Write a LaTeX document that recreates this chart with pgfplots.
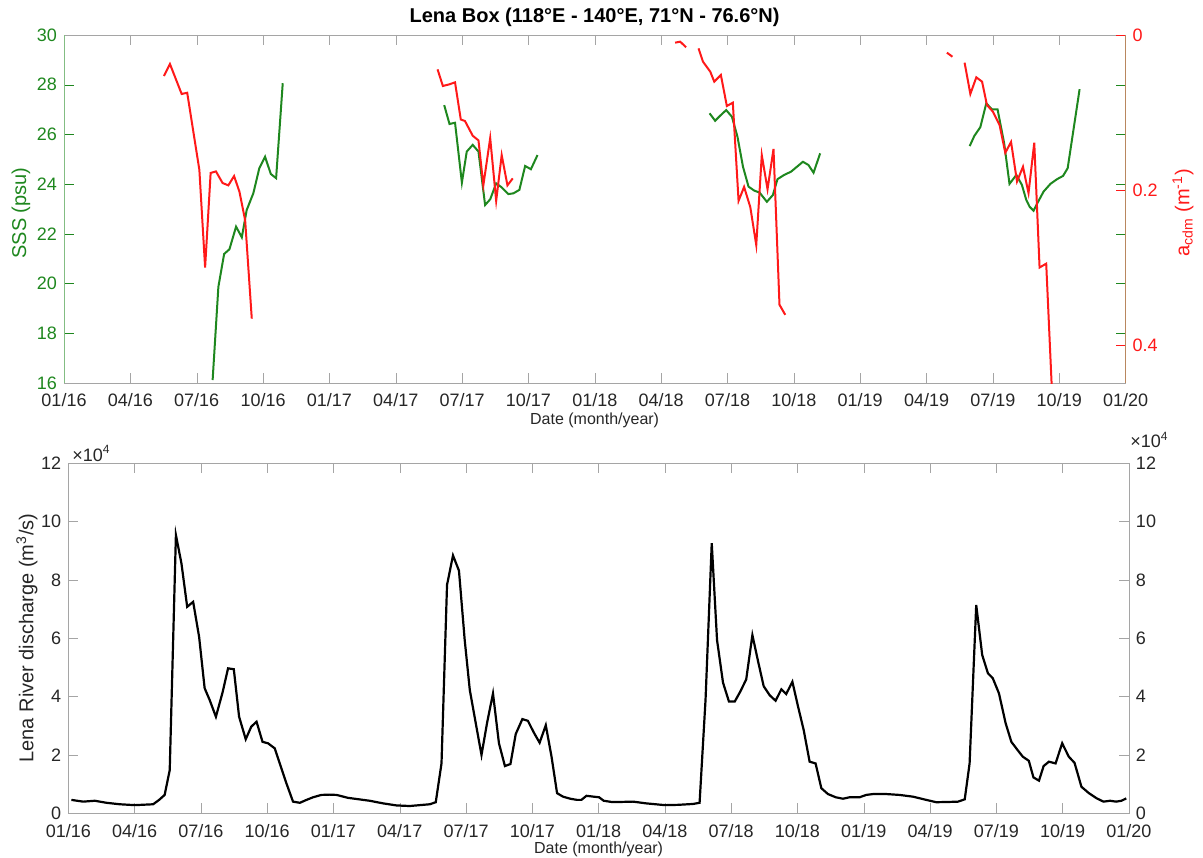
\documentclass[border=0pt]{standalone}
\usepackage{pgfplots}
\usepackage{pgfplotstable}
\pgfplotsset{compat=1.18}
\usepackage{fontspec}
\setmainfont{Liberation Sans}

\definecolor{sssgreen}{RGB}{30,135,30}
\definecolor{acdmred}{RGB}{255,25,25}
\definecolor{framegray}{RGB}{165,165,165}
\definecolor{labelgray}{RGB}{38,38,38}
\definecolor{rightaxis}{RGB}{185,135,95}

% Sea surface salinity in the Lena box (x = months since Jan 2016)
\pgfplotstableread{
month sss
6.72 16.12
6.98 19.87
7.24 21.19
7.48 21.38
7.78 22.29
8.04 21.86
8.26 22.96
8.56 23.63
8.83 24.64
9.09 25.10
9.35 24.41
9.59 24.24
9.89 28.06
nan nan
17.19 27.18
17.43 26.42
17.68 26.47
17.99 24.06
18.21 25.31
18.48 25.58
18.74 25.31
19.04 23.16
19.27 23.39
19.54 24.03
19.79 23.87
20.09 23.60
20.32 23.63
20.59 23.77
20.85 24.73
21.11 24.60
21.41 25.17
nan nan
29.19 26.85
29.44 26.55
29.70 26.78
29.94 26.98
30.20 26.71
30.45 25.91
30.70 24.70
30.95 23.90
31.21 23.74
31.45 23.66
31.78 23.29
32.05 23.56
32.26 24.20
32.56 24.37
32.87 24.50
33.14 24.70
33.41 24.90
33.66 24.77
33.89 24.46
34.19 25.24
nan nan
40.95 25.53
41.16 25.94
41.43 26.29
41.70 27.25
41.96 27.01
42.21 27.01
42.51 25.64
42.75 24.01
43.06 24.37
43.31 23.97
43.51 23.36
43.66 23.09
43.84 22.93
44.02 23.25
44.29 23.70
44.60 24.01
44.90 24.20
45.17 24.33
45.38 24.64
45.92 27.82
}\ssstable

% CDOM absorption (m^-1)
\pgfplotstableread{
month acdm
4.52 0.0529
4.79 0.0374
5.32 0.0761
5.57 0.0745
6.12 0.174
6.38 0.300
6.63 0.178
6.87 0.176
7.17 0.191
7.43 0.194
7.69 0.182
7.93 0.202
8.19 0.239
8.49 0.366
nan nan
16.89 0.0443
17.13 0.0658
17.43 0.0636
17.68 0.0611
17.94 0.109
18.13 0.111
18.48 0.130
18.74 0.136
18.96 0.194
19.27 0.133
19.54 0.214
19.79 0.155
20.05 0.194
20.29 0.185
nan nan
27.63 0.0099
27.86 0.0086
28.13 0.0159
nan nan
28.69 0.0172
28.89 0.0344
29.22 0.0473
29.40 0.0602
29.70 0.0516
29.97 0.0916
30.24 0.0873
30.50 0.214
30.75 0.196
31.03 0.222
31.30 0.271
31.55 0.155
31.81 0.199
32.08 0.147
32.35 0.348
32.61 0.361
nan nan
39.92 0.0228
40.17 0.0280
nan nan
40.72 0.0357
40.98 0.0761
41.25 0.0546
41.51 0.0602
41.73 0.0903
42.00 0.0989
42.30 0.116
42.56 0.152
42.82 0.138
43.09 0.189
43.36 0.170
43.61 0.204
43.87 0.139
44.11 0.300
44.41 0.295
44.67 0.460
}\acdmtable

% Lena River discharge (10^4 m^3/s)
\pgfplotstableread{
month q
0.14 0.46
0.67 0.40
1.20 0.43
1.73 0.36
2.33 0.31
3.01 0.28
3.84 0.31
4.11 0.46
4.36 0.63
4.59 1.48
4.87 9.54
5.12 8.57
5.38 7.08
5.65 7.25
5.92 6.05
6.17 4.29
6.40 3.88
6.68 3.31
6.98 4.14
7.23 4.97
7.49 4.94
7.73 3.31
8.03 2.54
8.28 2.97
8.52 3.14
8.79 2.45
9.04 2.40
9.34 2.23
9.87 1.03
10.17 0.40
10.48 0.36
10.78 0.46
11.08 0.55
11.45 0.63
11.83 0.64
12.14 0.63
12.66 0.53
13.64 0.43
14.25 0.34
14.85 0.27
15.45 0.25
16.36 0.31
16.63 0.38
16.89 1.71
17.14 7.83
17.41 8.84
17.68 8.32
17.94 5.94
18.17 4.23
18.44 3.09
18.70 2.00
18.95 3.09
19.22 4.11
19.49 2.40
19.76 1.62
20.01 1.69
20.25 2.72
20.55 3.23
20.80 3.17
21.06 2.78
21.33 2.42
21.61 3.02
21.87 1.94
22.12 0.69
22.39 0.57
22.72 0.50
23.02 0.46
23.22 0.46
23.45 0.60
23.78 0.57
24.02 0.55
24.23 0.43
24.58 0.39
25.03 0.39
25.56 0.40
26.16 0.34
27.00 0.28
27.59 0.29
28.27 0.32
28.57 0.36
28.84 3.90
29.12 9.26
29.36 5.94
29.63 4.48
29.90 3.83
30.16 3.83
30.41 4.17
30.68 4.59
30.96 6.11
31.22 5.20
31.47 4.36
31.74 4.05
32.01 3.86
32.27 4.25
32.49 4.09
32.77 4.51
33.02 3.68
33.28 2.86
33.55 1.77
33.82 1.71
34.08 0.86
34.38 0.66
34.73 0.55
35.06 0.50
35.36 0.55
35.81 0.55
36.11 0.63
36.42 0.66
37.02 0.66
37.62 0.63
38.23 0.57
38.83 0.46
39.28 0.38
39.88 0.39
40.27 0.40
40.57 0.48
40.79 1.71
41.09 7.14
41.36 5.43
41.62 4.80
41.84 4.63
42.12 4.11
42.42 3.09
42.68 2.45
42.98 2.15
43.20 1.94
43.47 1.80
43.68 1.23
43.93 1.12
44.14 1.62
44.38 1.77
44.68 1.71
44.98 2.40
45.28 1.94
45.54 1.73
45.85 0.91
46.19 0.69
46.55 0.51
46.85 0.40
47.15 0.43
47.42 0.40
47.66 0.43
47.88 0.51
}\qtable

\pgfplotsset{
  datestyle/.style={
    scale only axis, anchor=center,
    xmin=0, xmax=48, xtick={0,3,...,48},
    xticklabels={01/16,04/16,07/16,10/16,01/17,04/17,07/17,10/17,01/18,04/18,07/18,10/18,01/19,04/19,07/19,10/19,01/20},
    tick label style={font=\fontsize{9}{10}\selectfont},
    xticklabel style={text=labelgray, yshift=-1.8pt},
    major tick length=5pt, tick align=inside,
    /pgf/number format/assume math mode=true,
    unbounded coords=jump,
  },
  toppanel/.style={datestyle, at={(297.4pt,324pt)}, width=530.8pt, height=174pt},
  botpanel/.style={datestyle, at={(299.3pt,109.35pt)}, width=530.3pt, height=175pt},
}

\begin{document}
\begin{tikzpicture}[x=1pt,y=1pt]
\useasboundingbox (0,0) rectangle (601.5,428.5);

% ---- upper panel: salinity (left) and a_cdm (right, reversed) ----
\begin{axis}[toppanel,
  ymin=16, ymax=30, ytick={16,18,...,30},
  separate axis lines,
  x axis line style={framegray}, y axis line style={sssgreen!55},
  xtick style={framegray}, ytick style={sssgreen},
  yticklabel style={text=sssgreen}]
\addplot[sssgreen, line width=1pt] table[x=month, y=sss] {\ssstable};
\end{axis}

\begin{axis}[toppanel,
  axis x line=none, axis y line*=right, y dir=reverse,
  ymin=0, ymax=0.449, ytick={0,0.2,0.4}, yticklabels={0,0.2,0.4},
  y axis line style={rightaxis}, ytick style={acdmred},
  yticklabel style={text=acdmred}]
\addplot[acdmred, line width=1pt] table[x=month, y=acdm] {\acdmtable};
\end{axis}

% ---- lower panel: river discharge ----
\begin{axis}[botpanel,
  ymin=0, ymax=12, ytick={0,2,...,12},
  axis line style={framegray}, tick style={framegray},
  yticklabel style={text=labelgray}]
\addplot[black, line width=1.1pt] table[x=month, y=q] {\qtable};
\end{axis}

\begin{axis}[botpanel,
  axis x line=none, axis y line*=right,
  ymin=0, ymax=12, ytick={0,2,...,12},
  y axis line style={framegray}, ytick style={framegray},
  yticklabel style={text=labelgray}]
\end{axis}

% titles and labels
\node[font=\bfseries\fontsize{10}{12}\selectfont] at (297.3,420) {Lena Box (118°E - 140°E, 71°N - 76.6°N)};
\node[font=\fontsize{8}{9.5}\selectfont, text=labelgray] at (297.3,218.3) {Date (month/year)};
\node[font=\fontsize{8}{9.5}\selectfont, text=labelgray] at (299.3,3.6) {Date (month/year)};
\node[rotate=90, font=\fontsize{10}{12}\selectfont, text=sssgreen] at (10.5,322) {SSS (psu)};
\node[rotate=90, font=\fontsize{10}{12}\selectfont, text=acdmred] at (591.5,322) {a\textsubscript{cdm} (m\textsuperscript{-1})};
\node[rotate=90, font=\fontsize{10}{12}\selectfont, text=labelgray] at (13.5,109.5) {Lena River discharge (m\textsuperscript{3}/s)};
\node[anchor=base west, inner sep=0pt, font=\fontsize{9}{10}\selectfont, text=labelgray] at (36,197.8) {×10\textsuperscript{4}};
\node[anchor=base west, inner sep=0pt, font=\fontsize{9}{10}\selectfont, text=labelgray] at (565,204.5) {×10\textsuperscript{4}};
\end{tikzpicture}
\end{document}
